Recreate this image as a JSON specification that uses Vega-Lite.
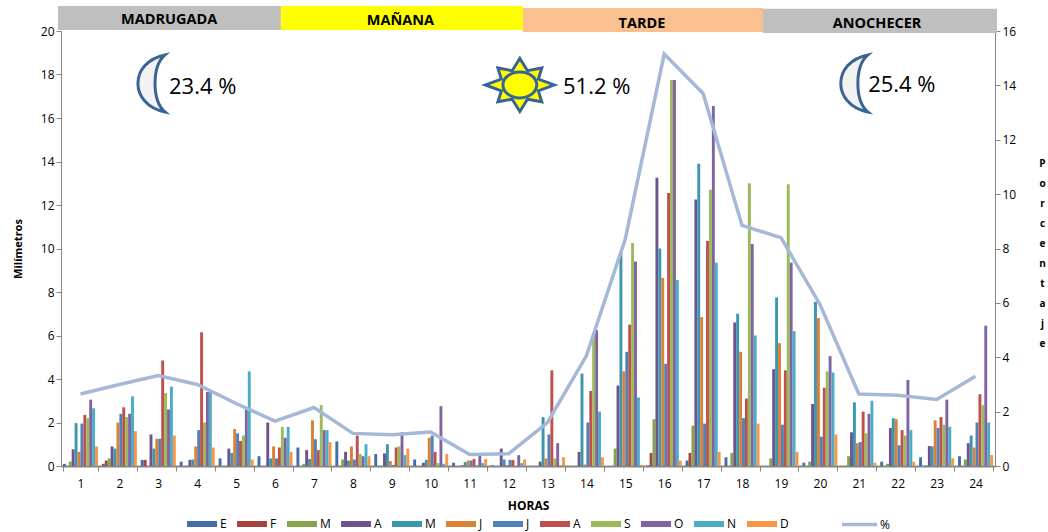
{
"$schema":"https://vega.github.io/schema/vega-lite/v6.json",
"width":934,"height":435,"autosize":"none",
"padding":{"left":61,"top":31,"right":53,"bottom":66},
"background":"white",
"config":{"font":"Open Sans","view":{"stroke":null}},
"datasets":{
"lluvia":[
{"h":1,"Ene":0.1,"Feb":0,"Mar":0.2,"Abr":0.77,"May":1.97,"Jun":0.65,"Jul":1.95,"Ago":2.35,"Sep":2.2,"Oct":3.05,"Nov":2.65,"Dic":0.9},
{"h":2,"Ene":0.1,"Feb":0.25,"Mar":0.35,"Abr":0.9,"May":0.8,"Jun":2.0,"Jul":2.4,"Ago":2.7,"Sep":2.25,"Oct":2.4,"Nov":3.2,"Dic":1.6},
{"h":3,"Ene":0.28,"Feb":0.28,"Mar":0,"Abr":1.45,"May":0.8,"Jun":1.25,"Jul":1.25,"Ago":4.85,"Sep":3.35,"Oct":2.6,"Nov":3.65,"Dic":1.4},
{"h":4,"Ene":0.2,"Feb":0,"Mar":0,"Abr":0.28,"May":0.3,"Jun":0.9,"Jul":1.65,"Ago":6.15,"Sep":2.0,"Oct":3.4,"Nov":3.45,"Dic":0.85},
{"h":5,"Ene":0.35,"Feb":0,"Mar":0,"Abr":0.8,"May":0.6,"Jun":1.7,"Jul":1.5,"Ago":1.15,"Sep":1.4,"Oct":2.6,"Nov":4.35,"Dic":0.3},
{"h":6,"Ene":0.45,"Feb":0,"Mar":0,"Abr":2.0,"May":0.35,"Jun":0.9,"Jul":0.35,"Ago":0.85,"Sep":1.8,"Oct":1.3,"Nov":1.8,"Dic":0.65},
{"h":7,"Ene":0.85,"Feb":0,"Mar":0.1,"Abr":0.73,"May":0.32,"Jun":2.1,"Jul":1.23,"Ago":0.73,"Sep":2.8,"Oct":1.65,"Nov":1.65,"Dic":1.1},
{"h":8,"Ene":1.13,"Feb":0,"Mar":0.3,"Abr":0.65,"May":0.25,"Jun":0.9,"Jul":0.3,"Ago":1.4,"Sep":0.55,"Oct":0.45,"Nov":1.0,"Dic":0.45},
{"h":9,"Ene":0.55,"Feb":0,"Mar":0,"Abr":0.58,"May":1.0,"Jun":0.23,"Jul":0.05,"Ago":0.85,"Sep":0.9,"Oct":1.55,"Nov":0.5,"Dic":0.8},
{"h":10,"Ene":0.3,"Feb":0,"Mar":0,"Abr":0.15,"May":0.28,"Jun":1.3,"Jul":1.4,"Ago":0.65,"Sep":0.13,"Oct":2.75,"Nov":0.1,"Dic":0.55},
{"h":11,"Ene":0.15,"Feb":0,"Mar":0,"Abr":0.03,"May":0.18,"Jun":0.25,"Jul":0.25,"Ago":0.32,"Sep":0.05,"Oct":0.6,"Nov":0.13,"Dic":0.32},
{"h":12,"Ene":0.03,"Feb":0,"Mar":0,"Abr":0.8,"May":0.3,"Jun":0.05,"Jul":0.28,"Ago":0.28,"Sep":0,"Oct":0.5,"Nov":0.13,"Dic":0.3},
{"h":13,"Ene":0,"Feb":0,"Mar":0,"Abr":0.2,"May":2.25,"Jun":0.35,"Jul":1.45,"Ago":4.4,"Sep":0.35,"Oct":1.05,"Nov":0.03,"Dic":0.4},
{"h":14,"Ene":0,"Feb":0,"Mar":0,"Abr":0.65,"May":4.25,"Jun":0.07,"Jul":2.0,"Ago":3.45,"Sep":6.0,"Oct":6.25,"Nov":2.5,"Dic":0.4},
{"h":15,"Ene":0,"Feb":0,"Mar":0.8,"Abr":3.7,"May":9.8,"Jun":4.35,"Jul":5.25,"Ago":6.5,"Sep":10.25,"Oct":9.4,"Nov":3.15,"Dic":0.05},
{"h":16,"Ene":0.03,"Feb":0.6,"Mar":2.15,"Abr":13.25,"May":10.0,"Jun":8.65,"Jul":4.7,"Ago":12.55,"Sep":17.75,"Oct":17.75,"Nov":8.55,"Dic":0.25},
{"h":17,"Ene":0.25,"Feb":0.6,"Mar":1.85,"Abr":12.25,"May":13.9,"Jun":6.85,"Jul":1.95,"Ago":10.35,"Sep":12.7,"Oct":16.55,"Nov":9.35,"Dic":0.65},
{"h":18,"Ene":0.4,"Feb":0,"Mar":0.6,"Abr":6.6,"May":7.0,"Jun":5.25,"Jul":2.2,"Ago":3.1,"Sep":13.0,"Oct":10.2,"Nov":6.0,"Dic":1.95},
{"h":19,"Ene":0,"Feb":0,"Mar":0.35,"Abr":4.45,"May":7.75,"Jun":5.65,"Jul":1.9,"Ago":4.4,"Sep":12.95,"Oct":9.35,"Nov":6.2,"Dic":0.65},
{"h":20,"Ene":0.15,"Feb":0,"Mar":0.2,"Abr":2.85,"May":7.55,"Jun":6.8,"Jul":1.35,"Ago":3.6,"Sep":4.35,"Oct":5.05,"Nov":4.3,"Dic":1.45},
{"h":21,"Ene":0,"Feb":0,"Mar":0.45,"Abr":1.55,"May":2.93,"Jun":1.05,"Jul":1.1,"Ago":2.5,"Sep":1.5,"Oct":2.4,"Nov":3.0,"Dic":0.15},
{"h":22,"Ene":0.2,"Feb":0,"Mar":0.1,"Abr":1.75,"May":2.2,"Jun":2.15,"Jul":0.95,"Ago":1.65,"Sep":1.4,"Oct":3.95,"Nov":1.65,"Dic":0.2},
{"h":23,"Ene":0.4,"Feb":0,"Mar":0.03,"Abr":0.92,"May":0.9,"Jun":2.1,"Jul":1.75,"Ago":2.25,"Sep":1.9,"Oct":3.05,"Nov":1.8,"Dic":0.35},
{"h":24,"Ene":0.45,"Feb":0,"Mar":0.3,"Abr":1.05,"May":1.4,"Jun":0.85,"Jul":2.0,"Ago":3.3,"Sep":2.8,"Oct":6.45,"Nov":2.0,"Dic":0.5}
],
"porcentaje":[
{"h":1,"p":2.65,"serie":"%"},{"h":2,"p":3.0,"serie":"%"},{"h":3,"p":3.33,"serie":"%"},{"h":4,"p":3.0,"serie":"%"},{"h":5,"p":2.3,"serie":"%"},{"h":6,"p":1.65,"serie":"%"},{"h":7,"p":2.15,"serie":"%"},{"h":8,"p":1.2,"serie":"%"},{"h":9,"p":1.15,"serie":"%"},{"h":10,"p":1.25,"serie":"%"},{"h":11,"p":0.42,"serie":"%"},{"h":12,"p":0.45,"serie":"%"},{"h":13,"p":1.6,"serie":"%"},{"h":14,"p":4.05,"serie":"%"},{"h":15,"p":8.35,"serie":"%"},{"h":16,"p":15.15,"serie":"%"},{"h":17,"p":13.7,"serie":"%"},{"h":18,"p":8.85,"serie":"%"},{"h":19,"p":8.4,"serie":"%"},{"h":20,"p":5.95,"serie":"%"},{"h":21,"p":2.65,"serie":"%"},{"h":22,"p":2.6,"serie":"%"},{"h":23,"p":2.45,"serie":"%"},{"h":24,"p":3.3,"serie":"%"}
],
"bandas":[
{"nombre":"MADRUGADA","x0":0.42,"x1":6.15,"y0":20.05,"y1":21.15,"xt":3.28,"yt":20.52,"c":"#bfbfbf"},
{"nombre":"MAÑANA","x0":6.15,"x1":12.37,"y0":20.05,"y1":21.15,"xt":9.22,"yt":20.47,"c":"#ffff00"},
{"nombre":"TARDE","x0":12.37,"x1":18.54,"y0":19.95,"y1":21.06,"xt":15.43,"yt":20.32,"c":"#fac090"},
{"nombre":"ANOCHECER","x0":18.54,"x1":24.55,"y0":19.91,"y1":21.02,"xt":21.47,"yt":20.32,"c":"#bfbfbf"}
],
"notas":[
{"t":"23.4 %","h":3.275,"v":17.43},
{"t":"51.2 %","h":13.4,"v":17.43},
{"t":"25.4 %","h":21.24,"v":17.52}
],
"lunas":[{"h":2.88,"v":17.59},{"h":20.94,"v":17.59}],
"sol":[{"h":12.29,"v":17.52}]
},
"layer":[
{"data":{"name":"lluvia"},
 "transform":[{"fold":["Ene","Feb","Mar","Abr","May","Jun","Jul","Ago","Sep","Oct","Nov","Dic"],"as":["mes","mm"]}],
 "mark":{"type":"bar"},
 "encoding":{
  "x":{"field":"h","type":"ordinal","scale":{"paddingInner":0.1,"paddingOuter":0.05},
   "axis":{"title":"HORAS","titleFontWeight":"bold","titleFontSize":12,"titlePadding":11,"titleColor":"#000","labelAngle":0,"labelFontSize":12,"labelColor":"#000","labelPadding":7,"tickBand":"extent","tickSize":5,"tickColor":"#868686","domainColor":"#868686","domainWidth":2,"grid":false}},
  "xOffset":{"field":"mes","type":"nominal","sort":["Ene","Feb","Mar","Abr","May","Jun","Jul","Ago","Sep","Oct","Nov","Dic"],"scale":{"domain":["Ene","Feb","Mar","Abr","May","Jun","Jul","Ago","Sep","Oct","Nov","Dic"],"paddingInner":0,"paddingOuter":0}},
  "y":{"field":"mm","type":"quantitative","scale":{"domain":[0,20],"nice":false},
   "axis":{"title":"Milímetros","titleFontWeight":"bold","titleFontSize":11,"titleColor":"#000","titlePadding":17,"values":[0,2,4,6,8,10,12,14,16,18,20],"labelFontSize":12,"labelColor":"#000","tickSize":5,"tickColor":"#868686","domainColor":"#868686","grid":false}},
  "color":{"field":"mes","type":"nominal","scale":{"domain":["Ene","Feb","Mar","Abr","May","Jun","Jul","Ago","Sep","Oct","Nov","Dic"],"range":["#416fa6","#a8423f","#86a44a","#6e548d","#3d96ae","#da8137","#4f81bd","#c0504d","#9bbb59","#8064a2","#4bacc6","#f79646"]},
   "legend":{"orient":"none","legendX":126,"legendY":478,"direction":"horizontal","columns":12,"title":null,"padding":0,"labelExpr":"substring(datum.label,0,1)","symbolType":"M-1,-0.2H1V0.2H-1Z","symbolSize":900,"symbolStrokeWidth":0,"labelFontSize":12,"labelColor":"#000","labelOffset":3,"columnPadding":10}}
 }},
{"data":{"name":"porcentaje"},
 "mark":{"type":"line","strokeWidth":3.5,"strokeJoin":"miter"},
 "encoding":{
  "x":{"field":"h","type":"ordinal","axis":null},
  "y":{"field":"p","type":"quantitative","scale":{"domain":[0,16],"nice":false},
   "axis":{"orient":"right","title":["P","o","r","c","e","n","t","a","j","e"],"titleAngle":0,"titleFontWeight":"bold","titleFontSize":10,"titleColor":"#000","titleLineHeight":20,"titleAlign":"center","titleBaseline":"middle","titleX":47,"titleY":132,"values":[0,2,4,6,8,10,12,14,16],"labelFontSize":12,"labelColor":"#000","tickSize":5,"tickColor":"#868686","domainColor":"#868686","grid":false}},
  "stroke":{"field":"serie","type":"nominal","scale":{"range":["#a5b8d8"]},
   "legend":{"orient":"none","legendX":779,"legendY":474,"title":null,"padding":0,"symbolType":"stroke","symbolSize":1225,"symbolStrokeWidth":3.5,"labelFontSize":12,"labelColor":"#000","labelOffset":1}}
 }},
{"data":{"name":"bandas"},
 "mark":{"type":"rect"},
 "encoding":{
  "x":{"field":"x0","type":"quantitative","scale":{"domain":[0.5,24.5],"nice":false},"axis":null},
  "x2":{"field":"x1"},
  "y":{"field":"y0","type":"quantitative","scale":{"domain":[0,20],"nice":false},"axis":null},
  "y2":{"field":"y1"},
  "color":{"field":"c","type":"nominal","scale":null,"legend":null}
 }},
{"data":{"name":"bandas"},
 "mark":{"type":"text","fontWeight":"bold","fontSize":14.5,"color":"#000"},
 "encoding":{
  "x":{"field":"xt","type":"quantitative","scale":{"domain":[0.5,24.5],"nice":false},"axis":null},
  "y":{"field":"yt","type":"quantitative","scale":{"domain":[0,20],"nice":false},"axis":null},
  "text":{"field":"nombre"}
 }},
{"data":{"name":"notas"},
 "mark":{"type":"text","fontSize":22,"align":"left","color":"#000"},
 "encoding":{
  "x":{"field":"h","type":"quantitative","scale":{"domain":[0.5,24.5],"nice":false},"axis":null},
  "y":{"field":"v","type":"quantitative","scale":{"domain":[0,20],"nice":false},"axis":null},
  "text":{"field":"t"}
 }},
{"data":{"name":"lunas"},
 "mark":{"type":"point","filled":false,"fill":"#f2f2f2","fillOpacity":1,"opacity":1,"stroke":"#3a6496","strokeWidth":3,"size":3249,"shape":"M0.4,-1C-0.867,-0.75 -0.867,0.75 0.4,1C-0.067,0.6 -0.067,-0.6 0.4,-1Z"},
 "encoding":{
  "x":{"field":"h","type":"quantitative","scale":{"domain":[0.5,24.5],"nice":false},"axis":null},
  "y":{"field":"v","type":"quantitative","scale":{"domain":[0,20],"nice":false},"axis":null}
 }},
{"data":{"name":"sol"},
 "mark":{"type":"point","filled":false,"fill":"#ffff00","fillOpacity":1,"opacity":1,"stroke":"#3a6496","strokeWidth":3,"size":4761,"shape":"M1,0L0.536,0.171L0.636,0.49L0.222,0.413L0,0.77L-0.222,0.413L-0.636,0.49L-0.536,0.171L-1,0L-0.536,-0.171L-0.636,-0.49L-0.222,-0.413L0,-0.77L0.222,-0.413L0.636,-0.49L0.536,-0.171Z"},
 "encoding":{
  "x":{"field":"h","type":"quantitative","scale":{"domain":[0.5,24.5],"nice":false},"axis":null},
  "y":{"field":"v","type":"quantitative","scale":{"domain":[0,20],"nice":false},"axis":null}
 }},
{"data":{"name":"sol"},
 "mark":{"type":"point","filled":false,"fill":"#ffff00","fillOpacity":1,"opacity":1,"stroke":"#3a6496","strokeWidth":3,"size":4761,"shape":"M-0.49,0A0.49,0.375 0 1,1 0.49,0A0.49,0.375 0 1,1 -0.49,0Z"},
 "encoding":{
  "x":{"field":"h","type":"quantitative","scale":{"domain":[0.5,24.5],"nice":false},"axis":null},
  "y":{"field":"v","type":"quantitative","scale":{"domain":[0,20],"nice":false},"axis":null}
 }}
],
"resolve":{"scale":{"x":"independent","y":"independent","color":"independent","stroke":"independent"},"axis":{"y":"independent","x":"independent"},"legend":{"color":"independent"}}
}
